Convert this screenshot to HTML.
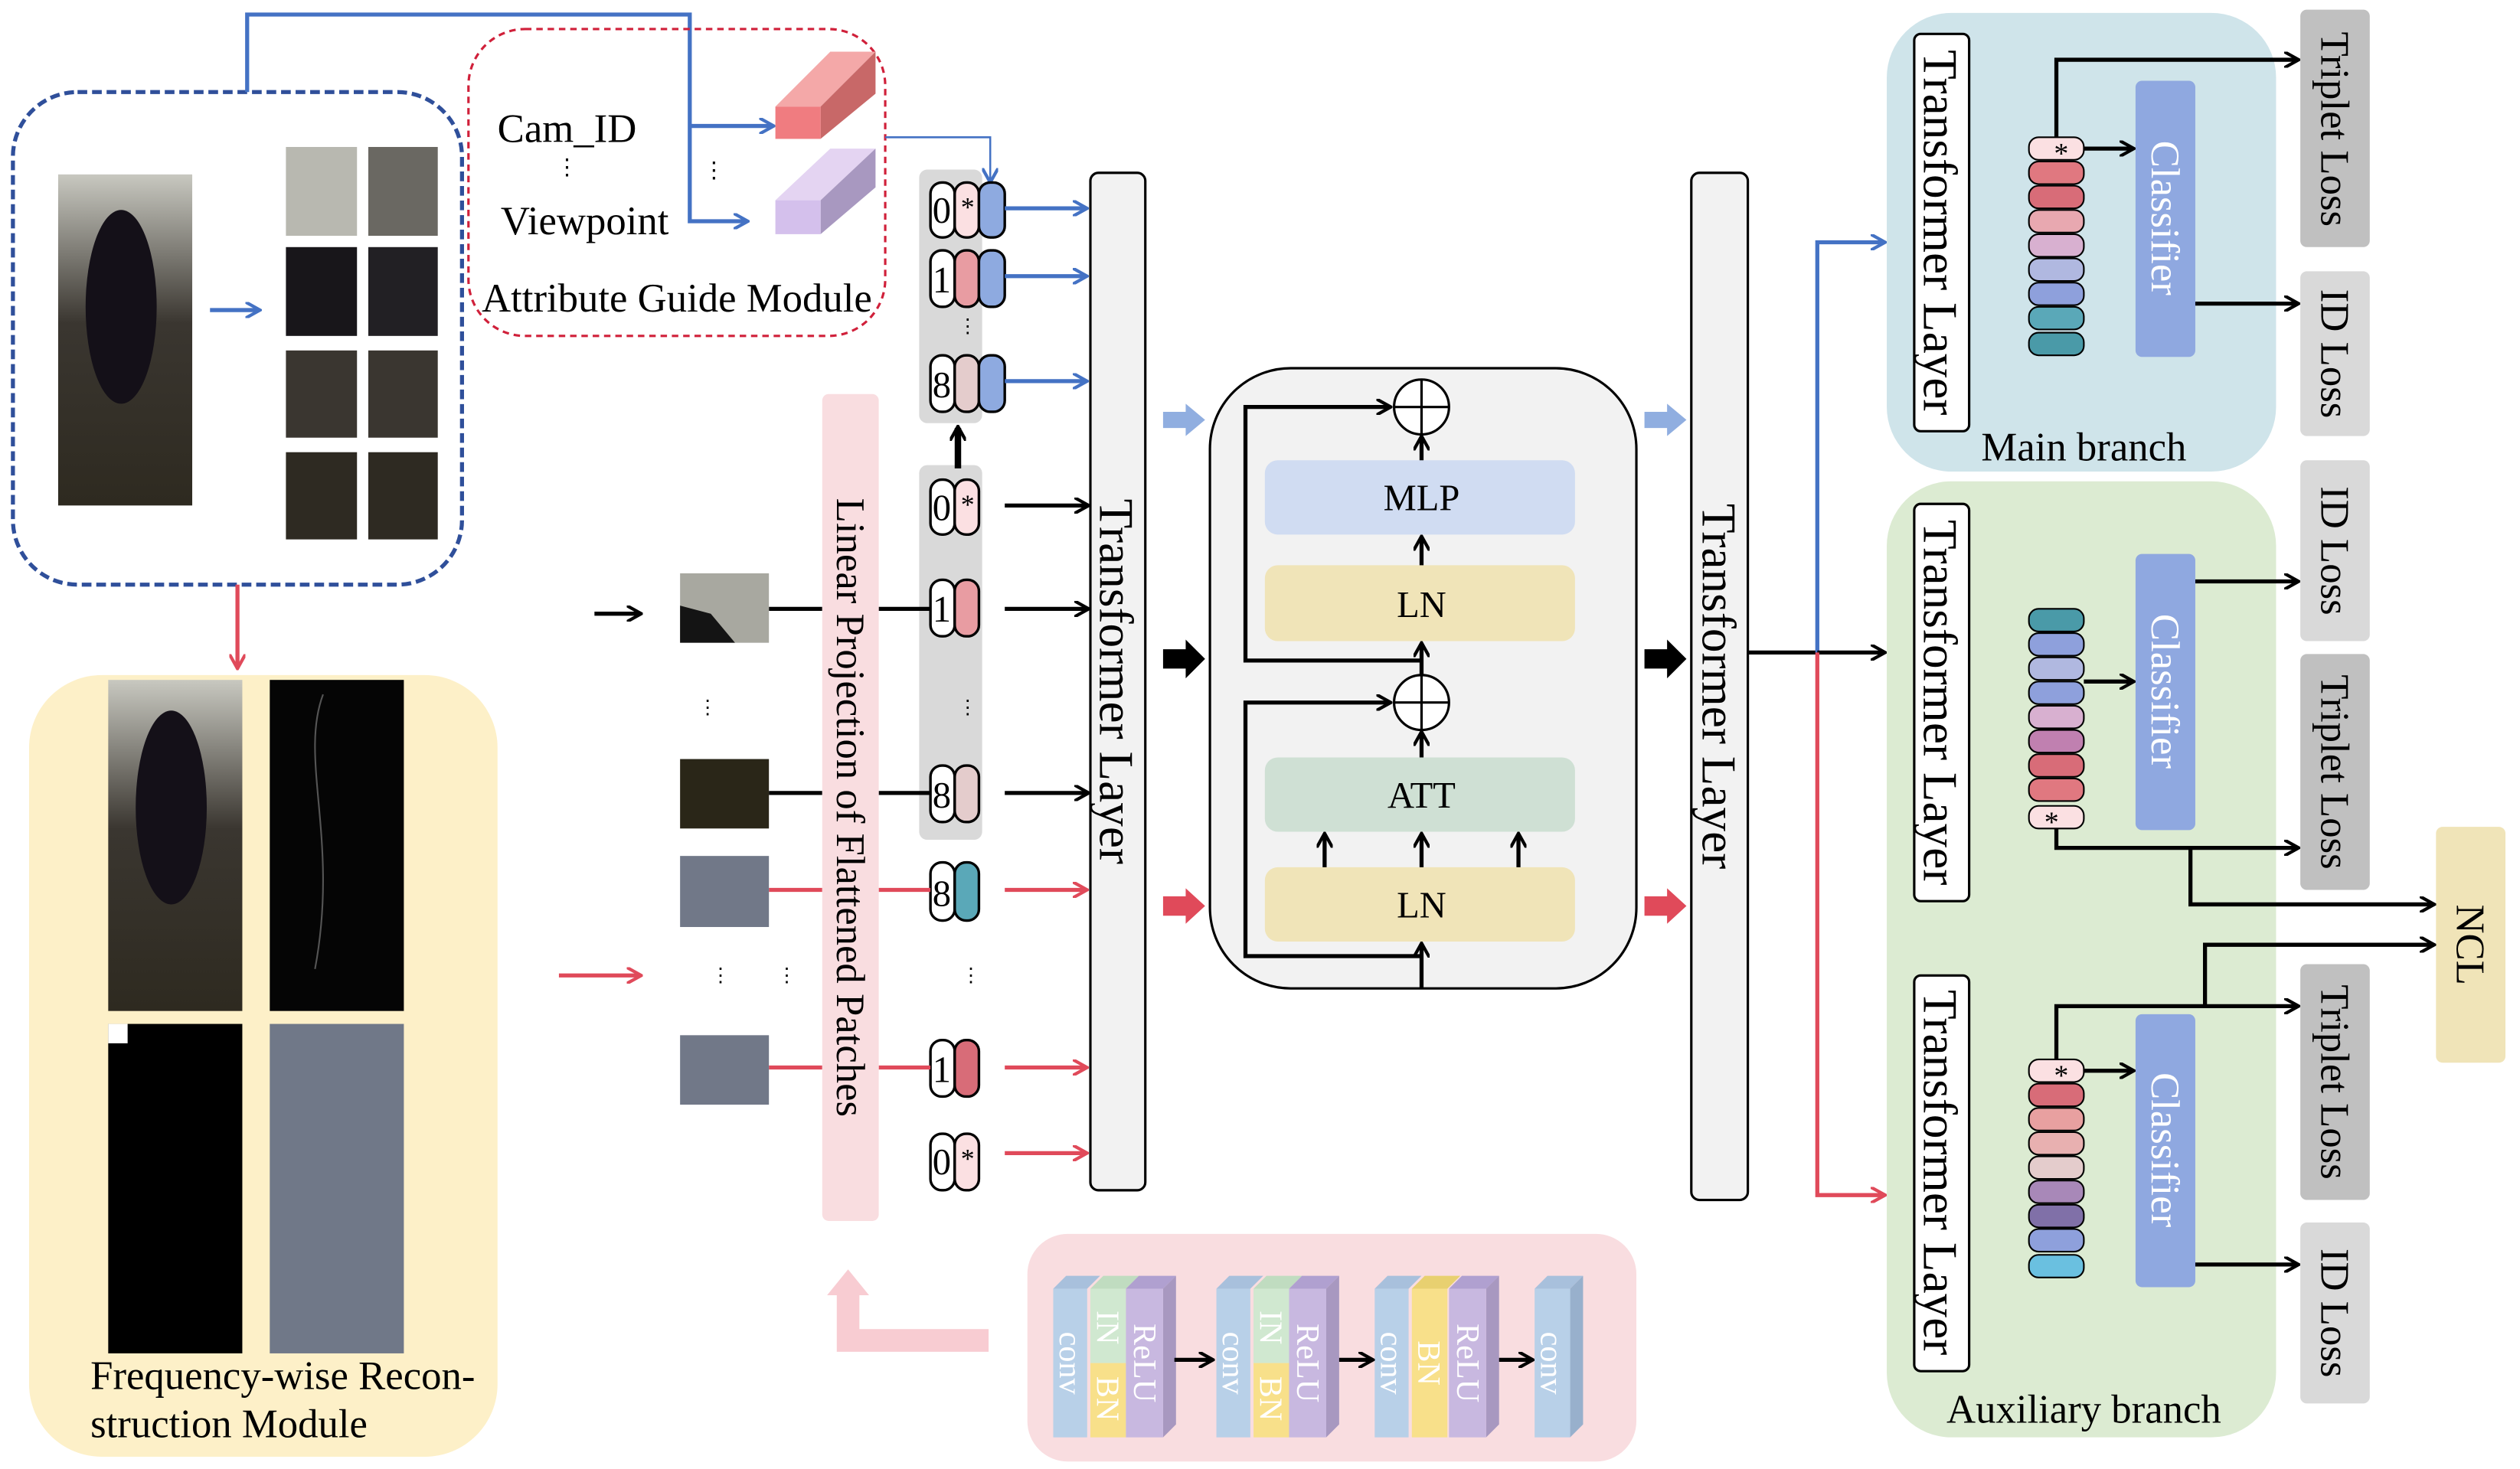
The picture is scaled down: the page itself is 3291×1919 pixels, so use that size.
<!DOCTYPE html>
<html><head><meta charset="utf-8"><style>html,body{margin:0;padding:0;background:#fff}svg{display:block}</style></head>
<body>
<svg width="3291" height="1919" viewBox="0 0 1560 909.6" preserveAspectRatio="none" xmlns="http://www.w3.org/2000/svg" font-family="'Liberation Serif',serif">
<defs>
<marker id="ab" markerWidth="10" markerHeight="10" refX="8" refY="5" orient="auto" markerUnits="userSpaceOnUse"><path d="M0,0 L9,5 L0,10" fill="none" stroke="#4472c4" stroke-width="2"/></marker>
<marker id="ak" markerWidth="10" markerHeight="10" refX="8" refY="5" orient="auto" markerUnits="userSpaceOnUse"><path d="M0,0 L9,5 L0,10" fill="none" stroke="#000" stroke-width="2"/></marker>
<marker id="ar" markerWidth="10" markerHeight="10" refX="8" refY="5" orient="auto" markerUnits="userSpaceOnUse"><path d="M0,0 L9,5 L0,10" fill="none" stroke="#e04a5a" stroke-width="2"/></marker>
<linearGradient id="ph" x1="0" y1="0" x2="0" y2="1"><stop offset="0" stop-color="#c8c8c0"/><stop offset="0.45" stop-color="#3a3630"/><stop offset="1" stop-color="#2e2a20"/></linearGradient>
</defs>

<rect x="8" y="57" width="278" height="305" rx="40" fill="none" stroke="#2f4f9a" stroke-width="2.5" stroke-dasharray="6,3"/>
<rect x="36" y="108" width="83" height="205" fill="url(#ph)"/>
<ellipse cx="75" cy="190" rx="22" ry="60" fill="#141018"/>
<line x1="130" y1="192" x2="160" y2="192" stroke="#4472c4" stroke-width="2.5" marker-end="url(#ab)"/>
<g fill="#3a3630">
<rect x="177" y="91" width="44" height="55" fill="#b8b8b0"/><rect x="228" y="91" width="43" height="55" fill="#6a6862"/>
<rect x="177" y="153" width="44" height="55" fill="#18161a"/><rect x="228" y="153" width="43" height="55" fill="#222024"/>
<rect x="177" y="217" width="44" height="54"/><rect x="228" y="217" width="43" height="54"/>
<rect x="177" y="280" width="44" height="54" fill="#2e2a22"/><rect x="228" y="280" width="43" height="54" fill="#2e2a22"/>
</g>
<polyline points="153,57 153,9 427,9 427,137 462,137" fill="none" stroke="#4472c4" stroke-width="2.5" marker-end="url(#ab)"/>
<line x1="427" y1="78" x2="478" y2="78" stroke="#4472c4" stroke-width="2.5" marker-end="url(#ab)"/>
<rect x="290" y="18" width="258" height="190" rx="35" fill="none" stroke="#d0203a" stroke-width="1.5" stroke-dasharray="4,3"/>
<text x="351" y="88" font-size="25" text-anchor="middle">Cam_ID</text>
<text x="351" y="108" font-size="14" text-anchor="middle">⋮</text>
<text x="442" y="110" font-size="14" text-anchor="middle">⋮</text>
<text x="362" y="145" font-size="25" text-anchor="middle">Viewpoint</text>
<text x="419" y="193" font-size="25" text-anchor="middle">Attribute Guide Module</text>
<polygon points="480,66 514,32 542,32 508,66" fill="#f4a8a8"/><polygon points="508,66 542,32 542,58 508,86" fill="#c86868"/><rect x="480" y="66" width="28" height="20" fill="#f07c80"/>
<polygon points="480,124 514,92 542,92 508,124" fill="#e4d4f2"/><polygon points="508,124 542,92 542,116 508,145" fill="#a898c0"/><rect x="480" y="124" width="28" height="21" fill="#d4c0ec"/>
<polyline points="548,85 613,85 613,112" fill="none" stroke="#4472c4" stroke-width="1.2" marker-end="url(#ab)"/>

<rect x="569" y="105" width="39" height="157" rx="5" fill="#d9d9d9"/>
<rect x="569" y="288" width="39" height="232" rx="5" fill="#d9d9d9"/>
<g stroke="#000" stroke-width="1.6">
<rect x="576" y="113" width="15" height="34" rx="7" fill="#fff"/><rect x="591" y="113" width="15" height="34" rx="7" fill="#fbe0e2"/><rect x="606" y="113" width="16" height="34" rx="7" fill="#8eaae0"/>
<rect x="576" y="155" width="15" height="35" rx="7" fill="#fff"/><rect x="591" y="155" width="15" height="35" rx="7" fill="#e89ca2"/><rect x="606" y="155" width="16" height="35" rx="7" fill="#8eaae0"/>
<rect x="576" y="220" width="15" height="35" rx="7" fill="#fff"/><rect x="591" y="220" width="15" height="35" rx="7" fill="#e4cccc"/><rect x="606" y="220" width="16" height="35" rx="7" fill="#8eaae0"/>
<rect x="576" y="297" width="15" height="34" rx="7" fill="#fff"/><rect x="591" y="297" width="15" height="34" rx="7" fill="#fbe0e2"/>
<rect x="576" y="359" width="15" height="35" rx="7" fill="#fff"/><rect x="591" y="359" width="15" height="35" rx="7" fill="#e89ca2"/>
<rect x="576" y="474" width="15" height="35" rx="7" fill="#fff"/><rect x="591" y="474" width="15" height="35" rx="7" fill="#e4cccc"/>
<rect x="576" y="534" width="15" height="36" rx="7" fill="#fff"/><rect x="591" y="534" width="15" height="36" rx="7" fill="#5aa8b8"/>
<rect x="576" y="644" width="15" height="35" rx="7" fill="#fff"/><rect x="591" y="644" width="15" height="35" rx="7" fill="#d86c78"/>
<rect x="576" y="702" width="15" height="35" rx="7" fill="#fff"/><rect x="591" y="702" width="15" height="35" rx="7" fill="#fbe0e2"/>
</g>
<g font-size="23" text-anchor="middle">
<text x="583" y="138">0</text><text x="599" y="134" font-size="17">*</text>
<text x="583" y="181">1</text><text x="583" y="246">8</text>
<text x="583" y="322">0</text><text x="599" y="318" font-size="17">*</text>
<text x="583" y="385">1</text><text x="583" y="500">8</text><text x="583" y="561">8</text>
<text x="583" y="670">1</text><text x="583" y="727">0</text><text x="599" y="723" font-size="17">*</text>
<text x="599" y="206" font-size="12">⋮</text><text x="599" y="442" font-size="12">⋮</text><text x="601" y="608" font-size="12">⋮</text>
<text x="438" y="442" font-size="12">⋮</text><text x="446" y="608" font-size="12">⋮</text><text x="487" y="608" font-size="12">⋮</text>
</g>
<line x1="593" y1="290" x2="593" y2="265" stroke="#000" stroke-width="4" marker-end="url(#ak)"/>
<g stroke="#4472c4" stroke-width="2.5"><line x1="622" y1="129" x2="672" y2="129" marker-end="url(#ab)"/><line x1="622" y1="171" x2="672" y2="171" marker-end="url(#ab)"/><line x1="622" y1="236" x2="672" y2="236" marker-end="url(#ab)"/></g>
<g stroke="#000" stroke-width="2.5"><line x1="622" y1="313" x2="673" y2="313" marker-end="url(#ak)"/><line x1="622" y1="377" x2="673" y2="377" marker-end="url(#ak)"/><line x1="622" y1="491" x2="673" y2="491" marker-end="url(#ak)"/>
<line x1="368" y1="380" x2="396" y2="380" marker-end="url(#ak)"/>
<line x1="476" y1="377" x2="509" y2="377"/><line x1="544" y1="377" x2="576" y2="377"/>
<line x1="476" y1="491" x2="509" y2="491"/><line x1="544" y1="491" x2="576" y2="491"/></g>
<g stroke="#e04a5a" stroke-width="2.5"><line x1="622" y1="551" x2="672" y2="551" marker-end="url(#ar)"/><line x1="622" y1="661" x2="672" y2="661" marker-end="url(#ar)"/><line x1="622" y1="714" x2="672" y2="714" marker-end="url(#ar)"/>
<line x1="346" y1="604" x2="396" y2="604" marker-end="url(#ar)"/>
<line x1="476" y1="551" x2="509" y2="551"/><line x1="544" y1="551" x2="576" y2="551"/>
<line x1="476" y1="661" x2="509" y2="661"/><line x1="544" y1="661" x2="576" y2="661"/>
<line x1="147" y1="362" x2="147" y2="413" marker-end="url(#ar)"/></g>
<rect x="421" y="355" width="55" height="43" fill="#a8a8a0"/><path d="M421,398 L421,375 L440,380 L455,398Z" fill="#141414"/>
<rect x="421" y="470" width="55" height="43" fill="#2a2618"/>
<rect x="421" y="530" width="55" height="44" fill="#717888"/>
<rect x="421" y="641" width="55" height="43" fill="#717888"/>
<rect x="509" y="244" width="35" height="512" rx="4" fill="#f9dde0"/>
<text transform="translate(518,500) rotate(90)" font-size="25" text-anchor="middle">Linear Projection of Flattened Patches</text>
<rect x="675" y="107" width="34" height="630" rx="5" fill="#f2f2f2" stroke="#000" stroke-width="1.5"/>
<text transform="translate(681,422) rotate(90)" font-size="30" text-anchor="middle">Transformer Layer</text>

<rect x="18" y="418" width="290" height="484" rx="45" fill="#fdf0c8"/>
<rect x="67" y="421" width="83" height="205" fill="url(#ph)"/><ellipse cx="106" cy="500" rx="22" ry="60" fill="#141018"/>
<rect x="167" y="421" width="83" height="205" fill="#050505"/>
<path d="M200,430 C185,470 210,520 195,600" stroke="#555" fill="none"/>
<rect x="67" y="634" width="83" height="204" fill="#000"/><rect x="67" y="634" width="12" height="12" fill="#fff"/>
<rect x="167" y="634" width="83" height="204" fill="#707888"/>
<text x="56" y="860" font-size="25">Frequency-wise Recon-</text>
<text x="56" y="890" font-size="25">struction Module</text>

<rect x="636" y="764" width="377" height="141" rx="25" fill="#f9dde0"/>
<polyline points="612,830 525,830 525,800" fill="none" stroke="#f8ccd2" stroke-width="14"/>
<polygon points="512,802 525,786 538,802" fill="#f8ccd2"/>
<g font-size="20" fill="#fff">
<polygon points="652,798 660,790 681,790 673,798" fill="#a8c0dc"/><rect x="652" y="798" width="21" height="92" fill="#b8d0e8"/>
<polygon points="675,798 683,790 705,790 697,798" fill="#c0dcc0"/><rect x="675" y="798" width="22" height="46" fill="#d0e8d0"/><rect x="675" y="844" width="22" height="46" fill="#f8e08a"/>
<polygon points="697,798 705,790 728,790 720,798" fill="#b0a0d0"/><polygon points="720,798 728,790 728,882 720,890" fill="#a898c0"/><rect x="697" y="798" width="23" height="92" fill="#c8b8e0"/>
<polygon points="753,798 761,790 782,790 774,798" fill="#a8c0dc"/><rect x="753" y="798" width="21" height="92" fill="#b8d0e8"/>
<polygon points="776,798 784,790 806,790 798,798" fill="#c0dcc0"/><rect x="776" y="798" width="22" height="46" fill="#d0e8d0"/><rect x="776" y="844" width="22" height="46" fill="#f8e08a"/>
<polygon points="798,798 806,790 829,790 821,798" fill="#b0a0d0"/><polygon points="821,798 829,790 829,882 821,890" fill="#a898c0"/><rect x="798" y="798" width="23" height="92" fill="#c8b8e0"/>
<polygon points="851,798 859,790 880,790 872,798" fill="#a8c0dc"/><rect x="851" y="798" width="21" height="92" fill="#b8d0e8"/>
<polygon points="874,798 882,790 904,790 896,798" fill="#e8d070"/><rect x="874" y="798" width="22" height="92" fill="#f8e08a"/>
<polygon points="897,798 905,790 928,790 920,798" fill="#b0a0d0"/><polygon points="920,798 928,790 928,882 920,890" fill="#a898c0"/><rect x="897" y="798" width="23" height="92" fill="#c8b8e0"/>
<polygon points="950,798 958,790 980,790 972,798" fill="#a8c0dc"/><polygon points="972,798 980,790 980,882 972,890" fill="#98b0cc"/><rect x="950" y="798" width="22" height="92" fill="#b8d0e8"/>
<text transform="translate(656,844) rotate(90)" text-anchor="middle">conv</text>
<text transform="translate(679,822) rotate(90)" text-anchor="middle">IN</text>
<text transform="translate(679,866) rotate(90)" text-anchor="middle">BN</text>
<text transform="translate(702,844) rotate(90)" text-anchor="middle">ReLU</text>
<text transform="translate(757,844) rotate(90)" text-anchor="middle">conv</text>
<text transform="translate(780,822) rotate(90)" text-anchor="middle">IN</text>
<text transform="translate(780,866) rotate(90)" text-anchor="middle">BN</text>
<text transform="translate(803,844) rotate(90)" text-anchor="middle">ReLU</text>
<text transform="translate(855,844) rotate(90)" text-anchor="middle">conv</text>
<text transform="translate(878,844) rotate(90)" text-anchor="middle">BN</text>
<text transform="translate(902,844) rotate(90)" text-anchor="middle">ReLU</text>
<text transform="translate(954,844) rotate(90)" text-anchor="middle">conv</text>
</g>
<g stroke="#000" stroke-width="2.5"><line x1="727" y1="842" x2="750" y2="842" marker-end="url(#ak)"/><line x1="829" y1="842" x2="849" y2="842" marker-end="url(#ak)"/><line x1="928" y1="842" x2="948" y2="842" marker-end="url(#ak)"/></g>

<rect x="749" y="228" width="264" height="384" rx="50" fill="#f2f2f2" stroke="#000" stroke-width="1.5"/>
<rect x="783" y="285" width="192" height="46" rx="8" fill="#d0dcf2"/>
<rect x="783" y="350" width="192" height="47" rx="8" fill="#f0e4b8"/>
<rect x="783" y="469" width="192" height="46" rx="8" fill="#cfe0d4"/>
<rect x="783" y="537" width="192" height="46" rx="8" fill="#f0e4b8"/>
<g font-size="23" text-anchor="middle"><text x="880" y="316">MLP</text><text x="880" y="382">LN</text><text x="880" y="500">ATT</text><text x="880" y="568">LN</text></g>
<g stroke="#000" stroke-width="2.5" fill="none">
<circle cx="880" cy="252" r="17" fill="#fff" stroke-width="1.5"/><line x1="863" y1="252" x2="897" y2="252" stroke-width="1.5"/><line x1="880" y1="235" x2="880" y2="269" stroke-width="1.5"/>
<circle cx="880" cy="435" r="17" fill="#fff" stroke-width="1.5"/><line x1="863" y1="435" x2="897" y2="435" stroke-width="1.5"/><line x1="880" y1="418" x2="880" y2="452" stroke-width="1.5"/>
<polyline points="880,409 771,409 771,252 860,252" marker-end="url(#ak)"/>
<polyline points="880,592 771,592 771,435 860,435" marker-end="url(#ak)"/>
<line x1="880" y1="612" x2="880" y2="585" marker-end="url(#ak)"/>
<line x1="820" y1="537" x2="820" y2="517" marker-end="url(#ak)"/><line x1="880" y1="537" x2="880" y2="517" marker-end="url(#ak)"/><line x1="940" y1="537" x2="940" y2="517" marker-end="url(#ak)"/>
<line x1="880" y1="469" x2="880" y2="454" marker-end="url(#ak)"/>
<line x1="880" y1="418" x2="880" y2="399" marker-end="url(#ak)"/>
<line x1="880" y1="350" x2="880" y2="333" marker-end="url(#ak)"/>
<line x1="880" y1="285" x2="880" y2="271" marker-end="url(#ak)"/>
</g>
<g><polygon points="720,255 734,255 734,250 746,260 734,270 734,265 720,265" fill="#90aee0"/>
<polygon points="720,402 734,402 734,396 746,408 734,420 734,414 720,414" fill="#000"/>
<polygon points="720,555 734,555 734,550 746,561 734,572 734,567 720,567" fill="#e04a5a"/>
<polygon points="1018,255 1032,255 1032,250 1044,260 1032,270 1032,265 1018,265" fill="#90aee0"/>
<polygon points="1018,402 1032,402 1032,396 1044,408 1032,420 1032,414 1018,414" fill="#000"/>
<polygon points="1018,555 1032,555 1032,550 1044,561 1032,572 1032,567 1018,567" fill="#e04a5a"/></g>
<rect x="1047" y="107" width="35" height="636" rx="5" fill="#f2f2f2" stroke="#000" stroke-width="1.5"/>
<text transform="translate(1054,425) rotate(90)" font-size="30" text-anchor="middle">Transformer Layer</text>
<line x1="1082" y1="404" x2="1125" y2="404" stroke="#000" stroke-width="2.5"/>
<polyline points="1125,404 1125,150 1166,150" fill="none" stroke="#4472c4" stroke-width="2.5" marker-end="url(#ab)"/>
<line x1="1125" y1="404" x2="1166" y2="404" stroke="#000" stroke-width="2.5" marker-end="url(#ak)"/>
<polyline points="1125,404 1125,740 1166,740" fill="none" stroke="#e04a5a" stroke-width="2.5" marker-end="url(#ar)"/>

<rect x="1168" y="8" width="241" height="284" rx="40" fill="#cfe4ea"/>
<rect x="1168" y="298" width="241" height="592" rx="40" fill="#dcebd2"/>
<g fill="#fff" stroke="#000" stroke-width="1.5"><rect x="1185" y="21" width="34" height="246" rx="4"/><rect x="1185" y="312" width="34" height="246" rx="4"/><rect x="1185" y="604" width="34" height="245" rx="4"/></g>
<g font-size="30" text-anchor="middle"><text transform="translate(1191,144) rotate(90)">Transformer Layer</text><text transform="translate(1191,435) rotate(90)">Transformer Layer</text><text transform="translate(1191,726) rotate(90)">Transformer Layer</text></g>
<text x="1290" y="285" font-size="25" text-anchor="middle">Main branch</text>
<text x="1290" y="881" font-size="25" text-anchor="middle">Auxiliary branch</text>
<g fill="#8fa8e0"><rect x="1322" y="50" width="37" height="171" rx="4"/><rect x="1322" y="343" width="37" height="171" rx="4"/><rect x="1322" y="628" width="37" height="169" rx="4"/></g>
<g font-size="25" fill="#fff" text-anchor="middle"><text transform="translate(1332,135) rotate(90)">Classifier</text><text transform="translate(1332,428) rotate(90)">Classifier</text><text transform="translate(1332,712) rotate(90)">Classifier</text></g>
<g stroke="#000" stroke-width="1">
<rect x="1256" y="85" width="34" height="14" rx="6" fill="#fbe0e2"/>
<rect x="1256" y="100" width="34" height="14" rx="6" fill="#e07880"/><rect x="1256" y="115" width="34" height="14" rx="6" fill="#d86c78"/><rect x="1256" y="130" width="34" height="14" rx="6" fill="#e8a8b0"/><rect x="1256" y="145" width="34" height="14" rx="6" fill="#d8b0d0"/><rect x="1256" y="160" width="34" height="14" rx="6" fill="#b0b8e0"/><rect x="1256" y="175" width="34" height="14" rx="6" fill="#8ea0dc"/><rect x="1256" y="190" width="34" height="14" rx="6" fill="#5aa8b8"/><rect x="1256" y="206" width="34" height="14" rx="6" fill="#4a9aa8"/>
<rect x="1256" y="377" width="34" height="14" rx="6" fill="#4a9aa8"/><rect x="1256" y="392" width="34" height="14" rx="6" fill="#8ea0dc"/><rect x="1256" y="407" width="34" height="14" rx="6" fill="#b0b8e0"/><rect x="1256" y="422" width="34" height="14" rx="6" fill="#8ea0dc"/><rect x="1256" y="437" width="34" height="14" rx="6" fill="#d8b0d0"/><rect x="1256" y="452" width="34" height="14" rx="6" fill="#c080b0"/><rect x="1256" y="467" width="34" height="14" rx="6" fill="#d86c78"/><rect x="1256" y="482" width="34" height="14" rx="6" fill="#e07880"/><rect x="1256" y="499" width="34" height="14" rx="6" fill="#fbe0e2"/>
<rect x="1256" y="656" width="34" height="14" rx="6" fill="#fbe0e2"/>
<rect x="1256" y="671" width="34" height="14" rx="6" fill="#d86c78"/><rect x="1256" y="686" width="34" height="14" rx="6" fill="#e8a0a0"/><rect x="1256" y="701" width="34" height="14" rx="6" fill="#e8b0b0"/><rect x="1256" y="716" width="34" height="14" rx="6" fill="#e4cccc"/><rect x="1256" y="731" width="34" height="14" rx="6" fill="#a888b8"/><rect x="1256" y="746" width="34" height="14" rx="6" fill="#8070a8"/><rect x="1256" y="761" width="34" height="14" rx="6" fill="#8ea0dc"/><rect x="1256" y="777" width="34" height="14" rx="6" fill="#6ac0e0"/>
</g>
<g font-size="18" text-anchor="middle"><text x="1276" y="101">*</text><text x="1270" y="515">*</text><text x="1276" y="672">*</text></g>
<g><rect x="1424" y="6" width="43" height="147" rx="4" fill="#c0c0c0"/><rect x="1424" y="168" width="43" height="102" rx="4" fill="#d9d9d9"/>
<rect x="1424" y="285" width="43" height="112" rx="4" fill="#d9d9d9"/><rect x="1424" y="405" width="43" height="146" rx="4" fill="#c0c0c0"/>
<rect x="1424" y="597" width="43" height="146" rx="4" fill="#c0c0c0"/><rect x="1424" y="757" width="43" height="112" rx="4" fill="#d9d9d9"/>
<rect x="1508" y="512" width="43" height="146" rx="4" fill="#f0e4b8"/></g>
<g font-size="25" text-anchor="middle"><text transform="translate(1437,80) rotate(90)">Triplet Loss</text><text transform="translate(1437,219) rotate(90)">ID Loss</text>
<text transform="translate(1437,341) rotate(90)">ID Loss</text><text transform="translate(1437,478) rotate(90)">Triplet Loss</text>
<text transform="translate(1437,670) rotate(90)">Triplet Loss</text><text transform="translate(1437,813) rotate(90)">ID Loss</text>
<text transform="translate(1521,585) rotate(90)">NCL</text></g>
<g stroke="#000" stroke-width="2.5" fill="none">
<polyline points="1273,85 1273,37 1422,37" marker-end="url(#ak)"/><line x1="1290" y1="92" x2="1320" y2="92" marker-end="url(#ak)"/><line x1="1359" y1="188" x2="1422" y2="188" marker-end="url(#ak)"/>
<line x1="1359" y1="360" x2="1422" y2="360" marker-end="url(#ak)"/><line x1="1290" y1="422" x2="1320" y2="422" marker-end="url(#ak)"/>
<polyline points="1273,513 1273,525 1422,525" marker-end="url(#ak)"/><polyline points="1356,525 1356,560 1506,560" marker-end="url(#ak)"/>
<polyline points="1273,656 1273,623 1422,623" marker-end="url(#ak)"/><polyline points="1365,623 1365,585 1506,585" marker-end="url(#ak)"/>
<line x1="1290" y1="663" x2="1320" y2="663" marker-end="url(#ak)"/><line x1="1359" y1="783" x2="1422" y2="783" marker-end="url(#ak)"/>
</g>
</svg>
</body></html>
